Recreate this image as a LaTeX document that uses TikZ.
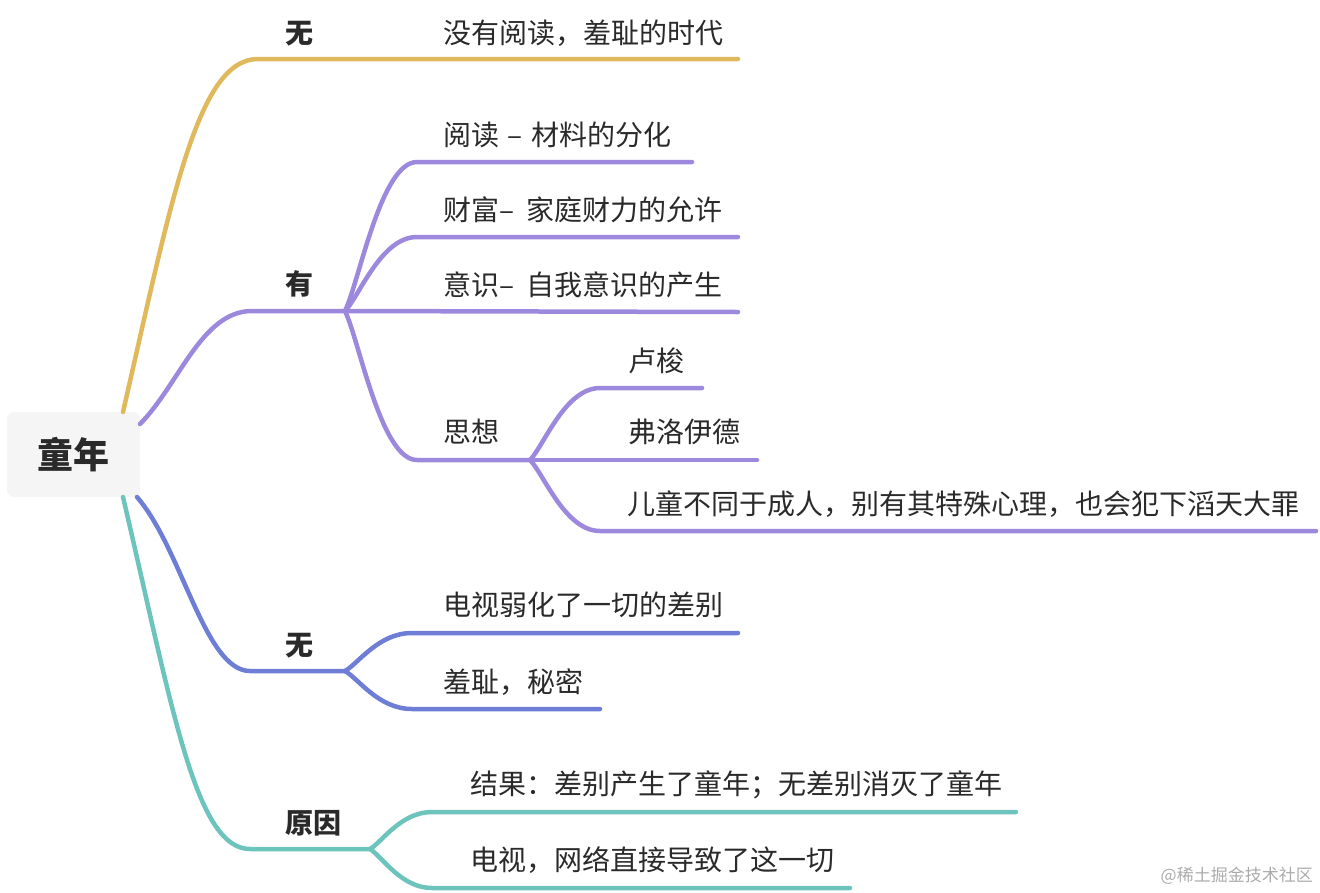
\documentclass[tikz,border=0pt]{standalone}
\usepackage{fontspec}
\setmainfont{Noto Sans CJK SC}
\usetikzlibrary{calc}
\definecolor{cyel}{HTML}{E0B95C}
\definecolor{cpur}{HTML}{9C88DC}
\definecolor{cblu}{HTML}{6E7ED6}
\definecolor{ctea}{HTML}{6CC4BC}
\definecolor{tcol}{HTML}{2A2A2A}
\definecolor{rootfill}{HTML}{F5F5F5}
\definecolor{wmark}{HTML}{ABABAB}
\newcommand{\gapsp}{\hspace{0.3em}}
\newcommand{\gapsq}{\hspace{0.45em}}
\tikzset{
  conn/.style n args={3}{to path={let \p1=(\tikztostart), \p2=(\tikztotarget) in
     .. controls ({\x1+#1*(\x2-\x1)},{\y1+#2*(\y2-\y1)}) and ({\x1+#3*(\x2-\x1)},\y2) .. (\tikztotarget)}},
  sub/.style={conn={0.2}{0.2}{0.5}},
  edge/.style={line width=4.5pt, line cap=round, line join=round},
  txt/.style={anchor=west, inner sep=0pt, text height=0.88em, text depth=0.12em, yshift=-7pt,
     font=\fontsize{28}{32}\selectfont, text=tcol},
  lone/.style={txt, font=\fontsize{28}{32}\selectfont\bfseries},
  rootbox/.style={rectangle, rounded corners=7pt, fill=rootfill, minimum width=133pt,
     minimum height=85pt, inner sep=0pt, font=\fontsize{36}{40}\selectfont\bfseries, text=tcol},
}
\begin{document}
\begin{tikzpicture}[x=1pt,y=-1pt]
\useasboundingbox (0,0) rectangle (1320,892);
% root
\node[rootbox] (root) at (73.5,454.5) {童年};
\coordinate (ry) at (123,412);
\coordinate (rp) at (140,424);
\coordinate (rb) at (137,497);
\coordinate (rt) at (123,497);

% ---------- yellow ----------
\coordinate (wu1s) at (258,59);
\coordinate (wu1f) at (345,59);
\coordinate (c1e) at (738,59);
\node[lone] (wu1) at (285,33) {无};
\node[txt] (c1) at (443,33) {没有阅读，羞耻的时代};
\draw[edge,cyel] (ry) to[conn={0.36}{0.6}{0.55}] (wu1s) -- (wu1f) -- (c1e);

% ---------- purple ----------
\coordinate (yous) at (252,311);
\coordinate (youf) at (345,311);
\node[lone] (you) at (285,284) {有};
\draw[edge,cpur] (rp) to[conn={0.35}{0.35}{0.55}] (yous) -- (youf);

\coordinate (yds) at (417,162); \coordinate (yde) at (692,162);
\node[txt] (yd) at (443,135) {阅读{\gapsp}–{\gapsp}材料的分化};
\draw[edge,cpur] (youf) to[sub] (yds) -- (yde);

\coordinate (cfs) at (417,237); \coordinate (cfe) at (738,237);
\node[txt] (cf) at (443,210) {财富–{\gapsq}家庭财力的允许};
\draw[edge,cpur] (youf) to[sub] (cfs) -- (cfe);

\coordinate (yse) at (738,312);
\node[txt] (ys) at (443,285) {意识–{\gapsq}自我意识的产生};
\draw[edge,cpur] (youf) -- (yse);

\coordinate (sxs) at (417,460); \coordinate (sxf) at (530,460);
\node[txt] (sx) at (443,432) {思想};
\draw[edge,cpur] (youf) to[sub] (sxs) -- (sxf);

\coordinate (lss) at (600,388); \coordinate (lse) at (702,388);
\node[txt] (ls) at (628,361) {卢梭};
\draw[edge,cpur] (sxf) to[sub] (lss) -- (lse);

\coordinate (fle) at (757,460);
\node[txt] (fl) at (628,432) {弗洛伊德};
\draw[edge,cpur] (sxf) -- (fle);

\coordinate (ets) at (600,531); \coordinate (ete) at (1316,531);
\node[txt] (et) at (627,504) {儿童不同于成人，别有其特殊心理，也会犯下滔天大罪};
\draw[edge,cpur] (sxf) to[sub] (ets) -- (ete);

% ---------- blue ----------
\coordinate (wu2s) at (250,671);
\coordinate (wu2f) at (345,671);
\node[lone] (wu2) at (285,645) {无};
\draw[edge,cblu] (rb) to[conn={0.4}{0.3}{0.6}] (wu2s) -- (wu2f);

\coordinate (dss) at (412,633); \coordinate (dse) at (738,633);
\node[txt] (ds) at (443,605) {电视弱化了一切的差别};
\draw[edge,cblu] (wu2f) to[sub] (dss) -- (dse);

\coordinate (xcs) at (412,709); \coordinate (xce) at (600,709);
\node[txt] (xc) at (443,682) {羞耻，秘密};
\draw[edge,cblu] (wu2f) to[sub] (xcs) -- (xce);

% ---------- teal ----------
\coordinate (yys) at (250,849);
\coordinate (yyf) at (370,849);
\node[lone] (yy) at (285,823) {原因};
\draw[edge,ctea] (rt) to[conn={0.39}{0.6}{0.57}] (yys) -- (yyf);

\coordinate (jgs) at (432,812); \coordinate (jge) at (1016,812);
\node[txt] (jg) at (470,784) {结果：差别产生了童年；无差别消灭了童年};
\draw[edge,ctea] (yyf) to[sub] (jgs) -- (jge);

\coordinate (wls) at (432,888); \coordinate (wle) at (850,888);
\node[txt] (wl) at (470,860) {电视，网络直接导致了这一切};
\draw[edge,ctea] (yyf) to[sub] (wls) -- (wle);

% watermark
\node[anchor=east, inner sep=0pt, font=\fontsize{17}{20}\selectfont, text=wmark] (wm) at (1313,876) {@稀土掘金技术社区};
\end{tikzpicture}
\end{document}
